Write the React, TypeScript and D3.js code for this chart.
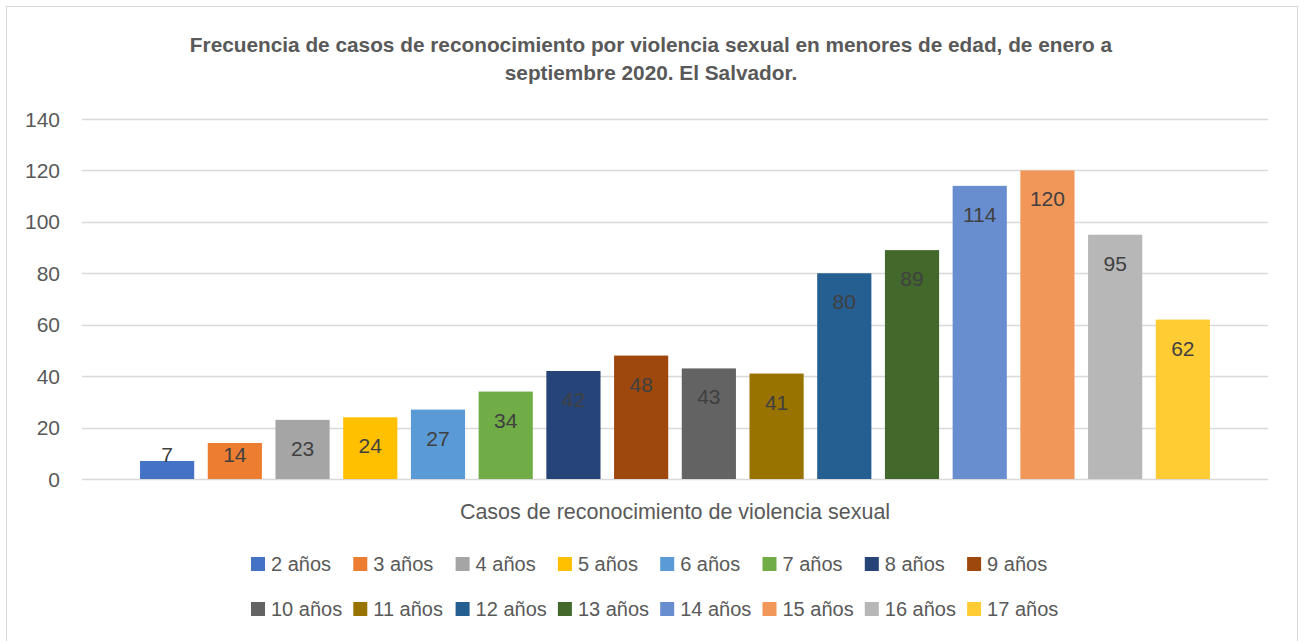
import React from 'react'
import * as d3 from 'd3'

const series = ['2 años', '3 años', '4 años', '5 años', '6 años', '7 años', '8 años', '9 años', '10 años', '11 años', '12 años', '13 años', '14 años', '15 años', '16 años', '17 años']
const values = [7, 14, 23, 24, 27, 34, 42, 48, 43, 41, 80, 89, 114, 120, 95, 62]
const colors = ['#4472C4', '#ED7D31', '#A5A5A5', '#FFC000', '#5B9BD5', '#70AD47', '#264478', '#9E480E', '#636363', '#997300', '#255E91', '#43682B', '#698ED0', '#F1975A', '#B7B7B7', '#FFCD33']
const yTicks = [0, 20, 40, 60, 80, 100, 120, 140]
const titleLines = ['Frecuencia de casos de reconocimiento por violencia sexual en menores de edad, de enero a', 'septiembre 2020. El Salvador.']
const axisTitle = 'Casos de reconocimiento de violencia sexual'

const W = 1307
const H = 641
const plot = { left: 82, right: 1268, top: 119, bottom: 479 }
const font = '"Liberation Sans", Arial, sans-serif'

export default function App() {
	const y = d3.scaleLinear().domain([0, 140]).range([plot.bottom, plot.top])
	const x = d3
		.scaleBand()
		.domain(series)
		.range([plot.left, plot.right])
		.paddingInner(0.2)
		.paddingOuter(0.857)

	// legend laid out in two rows of fixed-width columns
	const legendX = d3.scaleLinear().domain([0, 1]).range([251, 353.3])
	const perRow = 8

	return (
		<svg width={W} height={H} style={{ position: 'absolute', left: 0, top: 0 }} fontFamily={font}>
			<rect x={6.5} y={6.5} width={1291} height={H + 10} fill="#fff" stroke="#D9D9D9" />
			{titleLines.map((t, i) => (
				<text key={i} x={651} y={52 + i * 28} textAnchor="middle" fontSize={20.8} fontWeight="bold" fill="#595959">
					{t}
				</text>
			))}
			{yTicks.map(t => (
				<g key={t}>
					<line x1={plot.left} x2={plot.right} y1={Math.round(y(t)) + 0.5} y2={Math.round(y(t)) + 0.5} stroke="#D9D9D9" strokeWidth={1.5} />
					<text x={60} y={y(t) + 7.5} textAnchor="end" fontSize={21} fill="#595959">
						{t}
					</text>
				</g>
			))}
			{series.map((s, i) => (
				<g key={s}>
					<rect x={x(s)} y={y(values[i])} width={x.bandwidth()} height={plot.bottom - y(values[i])} fill={colors[i]} />
					<text
						x={(x(s) ?? 0) + x.bandwidth() / 2}
						y={Math.min(y(values[i]) + 36, 462)}
						textAnchor="middle"
						fontSize={21}
						fill="#404040"
					>
						{values[i]}
					</text>
				</g>
			))}
			<text x={675} y={519} textAnchor="middle" fontSize={21.5} fill="#595959">
				{axisTitle}
			</text>
			{series.map((s, i) => {
				const col = i % perRow
				const row = Math.floor(i / perRow)
				const lx = legendX(col)
				const ly = 557 + row * 45
				return (
					<g key={s}>
						<rect x={lx} y={ly} width={14} height={14} fill={colors[i]} />
						<text x={lx + 20} y={ly + 14} fontSize={20} fill="#595959">
							{s}
						</text>
					</g>
				)
			})}
		</svg>
	)
}
